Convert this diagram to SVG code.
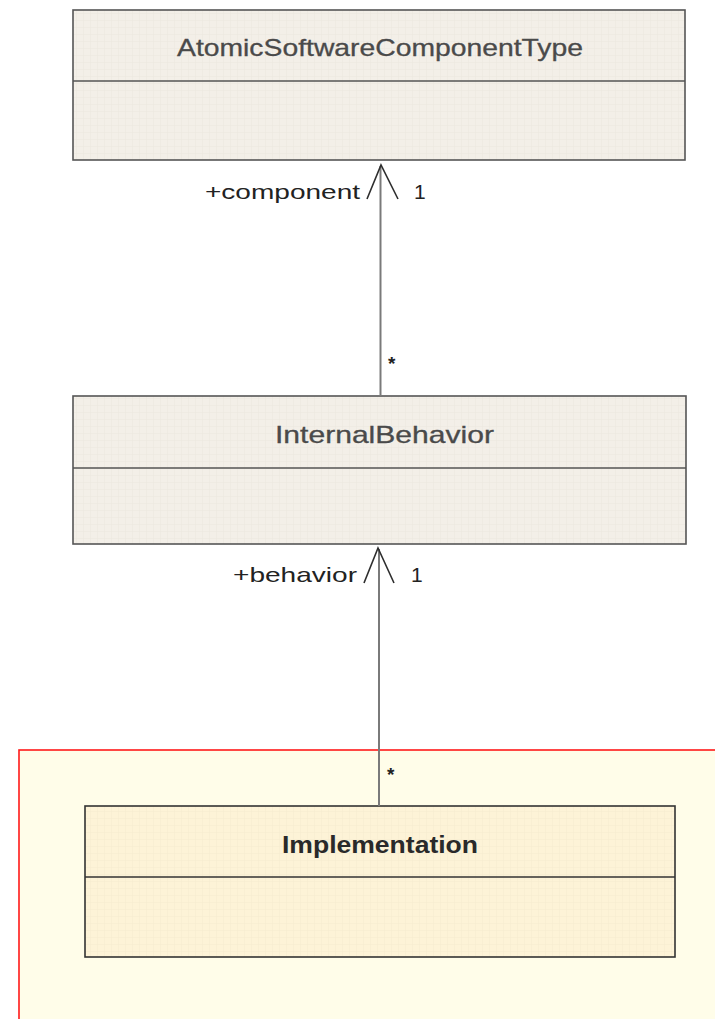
<svg xmlns="http://www.w3.org/2000/svg" width="715" height="1019" viewBox="0 0 715 1019">
  <style>
    .cls { stroke: #555; stroke-width: 1.6; }
    .div { stroke: #555; stroke-width: 1.4; }
    .title { font-family: "Liberation Sans", Arial, sans-serif; font-size: 24px; fill: #4a4a4a; stroke: #4a4a4a; stroke-width: 0.3; }
    .title-dark { font-family: "Liberation Sans", Arial, sans-serif; font-size: 24px; font-weight: bold; fill: #2a2a2a; }
    .lbl { font-family: "Liberation Sans", Arial, sans-serif; font-size: 21px; fill: #222; }
    .star { font-family: "Liberation Sans", Arial, sans-serif; font-size: 19px; font-weight: bold; fill: #222; }
    .line { stroke: #7a7a7a; stroke-width: 2; fill: none; }
    .head { stroke: #2e2e2e; stroke-width: 1.6; fill: none; stroke-linejoin: miter; }
  </style>
  <defs>
    <pattern id="grid" width="7" height="7" patternUnits="userSpaceOnUse">
      <rect width="7" height="7" fill="#f3efe8"/>
      <path d="M7 0V7M0 7H7" stroke="#ebe7df" stroke-width="1"/>
    </pattern>
    <pattern id="gridWarm" width="7" height="7" patternUnits="userSpaceOnUse">
      <rect width="7" height="7" fill="#fdf3d7"/>
      <path d="M7 0V7M0 7H7" stroke="#f6ecd0" stroke-width="1"/>
    </pattern>
  </defs>

  <rect width="715" height="1019" fill="#ffffff"/>

  <!-- package area holding Implementation -->
  <g id="package-region">
    <rect x="19" y="750" width="720" height="300" fill="#fffde9" stroke="#ff1a1a" stroke-width="1.6"/>
  </g>

  <!-- class: AtomicSoftwareComponentType -->
  <g id="node-atomic-swc-type">
    <rect x="73" y="10" width="612" height="150" fill="url(#grid)" class="cls"/>
    <line x1="73" y1="81" x2="685" y2="81" class="div"/>
    <text x="177" y="56" class="title" textLength="406" lengthAdjust="spacingAndGlyphs">AtomicSoftwareComponentType</text>
  </g>

  <!-- class: InternalBehavior -->
  <g id="node-internal-behavior">
    <rect x="73" y="396" width="613" height="148" fill="url(#grid)" class="cls"/>
    <line x1="73" y1="468" x2="686" y2="468" class="div"/>
    <text x="275" y="443" class="title" textLength="219" lengthAdjust="spacingAndGlyphs">InternalBehavior</text>
  </g>

  <!-- class: Implementation -->
  <g id="node-implementation">
    <rect x="85" y="806" width="590" height="151" fill="url(#gridWarm)" stroke="#333" stroke-width="1.6"/>
    <line x1="85" y1="877" x2="675" y2="877" stroke="#333" stroke-width="1.5"/>
    <text x="282" y="853" class="title-dark" textLength="196" lengthAdjust="spacingAndGlyphs">Implementation</text>
  </g>

  <!-- associations with navigable ends -->
  <g id="connectors">
    <g id="assoc-component">
      <line x1="380.5" y1="166" x2="380.5" y2="396" class="line"/>
      <polyline points="367,199 381,165 398,199" class="head"/>
      <text x="205" y="199" class="lbl" textLength="155" lengthAdjust="spacingAndGlyphs">+component</text>
      <text x="414" y="199" class="lbl">1</text>
      <text x="388" y="370" class="star">*</text>
    </g>
    <g id="assoc-behavior">
      <line x1="379" y1="549" x2="379" y2="806" class="line"/>
      <polyline points="364,583 378,548 394,583" class="head"/>
      <text x="233" y="582" class="lbl" textLength="124" lengthAdjust="spacingAndGlyphs">+behavior</text>
      <text x="411" y="582" class="lbl">1</text>
      <text x="387" y="781" class="star">*</text>
    </g>
  </g>
</svg>
